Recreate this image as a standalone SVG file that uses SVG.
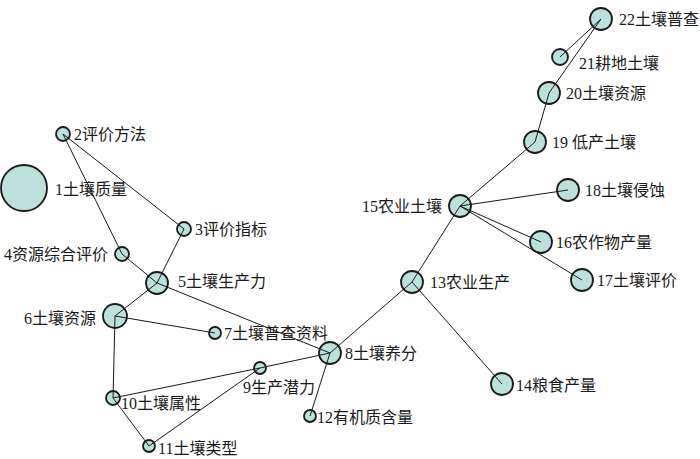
<svg xmlns="http://www.w3.org/2000/svg" width="700" height="459" viewBox="0 0 700 459">
<style>
.n{fill:#bde0dc;stroke:#1a1a1a;stroke-width:1.8}
.e{stroke:#1a1a1a;stroke-width:1;fill:none}
text{font-family:"Liberation Serif","Noto Sans CJK SC",serif;font-size:16px;fill:#1a1a1a;dominant-baseline:central}
</style>
<rect width="700" height="459" fill="#fff"/>
<g id="nodes">
<g id="n1"><circle class="n" cx="24" cy="188" r="23"/><text x="55" y="189">1土壤质量</text></g>
<g id="n2"><circle class="n" cx="63" cy="134" r="7"/><text x="74" y="134">2评价方法</text></g>
<g id="n3"><circle class="n" cx="184" cy="229" r="7"/><text x="195" y="229">3评价指标</text></g>
<g id="n4"><circle class="n" cx="122" cy="254" r="7"/><text x="108" y="254" text-anchor="end">4资源综合评价</text></g>
<g id="n5"><circle class="n" cx="157" cy="283" r="11"/><text x="178" y="281">5土壤生产力</text></g>
<g id="n6"><circle class="n" cx="115" cy="316" r="12"/><text x="96" y="318" text-anchor="end">6土壤资源</text></g>
<g id="n7"><circle class="n" cx="215" cy="333" r="6"/><text x="224" y="333">7土壤普查资料</text></g>
<g id="n8"><circle class="n" cx="330" cy="353" r="11"/><text x="345" y="353">8土壤养分</text></g>
<g id="n9"><circle class="n" cx="260" cy="368" r="6"/><text x="243" y="387">9生产潜力</text></g>
<g id="n10"><circle class="n" cx="113" cy="398" r="7"/><text x="121" y="403">10土壤属性</text></g>
<g id="n11"><circle class="n" cx="149" cy="446" r="6"/><text x="158" y="448">11土壤类型</text></g>
<g id="n12"><circle class="n" cx="310" cy="416" r="6"/><text x="317" y="417">12有机质含量</text></g>
<g id="n13"><circle class="n" cx="412" cy="282" r="11"/><text x="430" y="282">13农业生产</text></g>
<g id="n14"><circle class="n" cx="502" cy="384" r="11"/><text x="516" y="385">14粮食产量</text></g>
<g id="n15"><circle class="n" cx="460" cy="206" r="11"/><text x="442" y="206" text-anchor="end">15农业土壤</text></g>
<g id="n16"><circle class="n" cx="541" cy="242" r="11"/><text x="556" y="242">16农作物产量</text></g>
<g id="n17"><circle class="n" cx="582" cy="280" r="11"/><text x="597" y="280">17土壤评价</text></g>
<g id="n18"><circle class="n" cx="568" cy="190" r="11"/><text x="585" y="190">18土壤侵蚀</text></g>
<g id="n19"><circle class="n" cx="535" cy="142" r="11"/><text x="552" y="142">19 低产土壤</text></g>
<g id="n20"><circle class="n" cx="549" cy="93" r="11"/><text x="566" y="93">20土壤资源</text></g>
<g id="n21"><circle class="n" cx="560" cy="57" r="8"/><text x="579" y="63">21耕地土壤</text></g>
<g id="n22"><circle class="n" cx="601" cy="19" r="11"/><text x="619" y="19">22土壤普查</text></g>
</g>
<g id="edges" class="e">
<line x1="63" y1="134" x2="184" y2="229"/>
<line x1="63" y1="134" x2="122" y2="254"/>
<line x1="122" y1="254" x2="157" y2="283"/>
<line x1="184" y1="229" x2="157" y2="283"/>
<line x1="157" y1="283" x2="115" y2="316"/>
<line x1="157" y1="283" x2="330" y2="353"/>
<line x1="115" y1="316" x2="215" y2="333"/>
<line x1="115" y1="316" x2="113" y2="398"/>
<line x1="113" y1="398" x2="149" y2="446"/>
<line x1="113" y1="398" x2="260" y2="368"/>
<line x1="260" y1="368" x2="330" y2="353"/>
<line x1="149" y1="446" x2="260" y2="368"/>
<line x1="330" y1="353" x2="310" y2="416"/>
<line x1="330" y1="353" x2="412" y2="282"/>
<line x1="412" y1="282" x2="460" y2="206"/>
<line x1="412" y1="282" x2="502" y2="384"/>
<line x1="460" y1="206" x2="568" y2="190"/>
<line x1="460" y1="206" x2="541" y2="242"/>
<line x1="460" y1="206" x2="582" y2="280"/>
<line x1="460" y1="206" x2="535" y2="142"/>
<line x1="535" y1="142" x2="549" y2="93"/>
<line x1="549" y1="93" x2="601" y2="19"/>
<line x1="560" y1="57" x2="601" y2="19"/>
</g>
</svg>
